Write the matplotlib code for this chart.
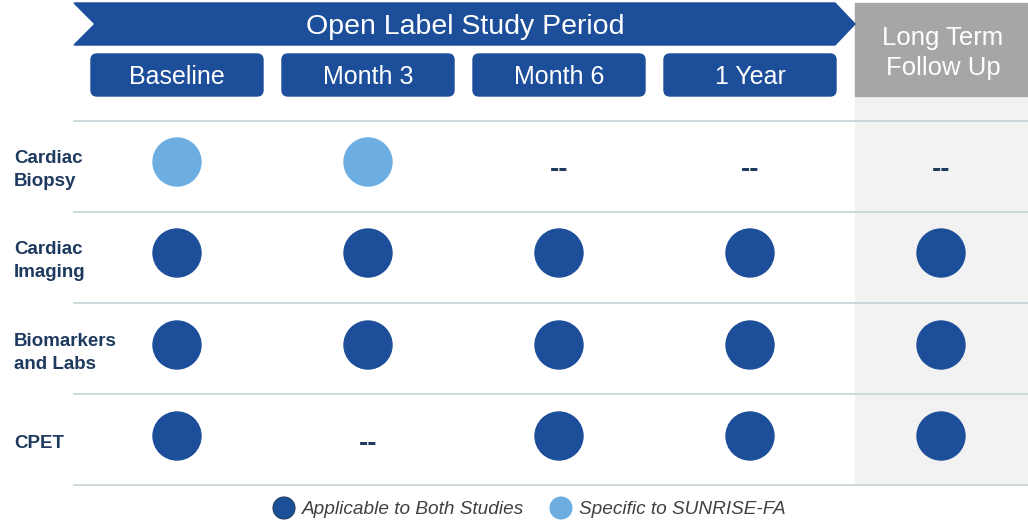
import matplotlib
matplotlib.use("Agg")
import matplotlib.pyplot as plt
from matplotlib.patches import Polygon, Rectangle, FancyBboxPatch, Circle

plt.rcParams["font.family"] = ["Liberation Sans", "DejaVu Sans"]

# ---- data ----
periods = ["Baseline", "Month 3", "Month 6", "1 Year", "Long Term\nFollow Up"]
assessments = ["Cardiac\nBiopsy", "Cardiac\nImaging", "Biomarkers\nand Labs", "CPET"]
# 2 = both studies, 1 = SUNRISE-FA only, 0 = not done
schedule = [
    [1, 1, 0, 0, 0],
    [2, 2, 2, 2, 2],
    [2, 2, 2, 2, 2],
    [2, 0, 2, 2, 2],
]
legend_labels = ["Applicable to Both Studies", "Specific to SUNRISE-FA"]

DARK = "#1d4e9a"
LIGHT = "#6daee2"
NAVY = "#1f3a5f"
GRAY = "#a6a6a6"
PALE = "#f2f2f2"
LINE = "#c5d3d8"

W, H = 1028, 524
fig = plt.figure(figsize=(W / 100, H / 100), dpi=100)
ax = fig.add_axes([0, 0, 1, 1])
ax.set_xlim(0, W); ax.set_ylim(H, 0); ax.axis("off")

col_x = [177, 368, 559, 750, 941]
row_y = [162, 253, 345, 436]
row_lines = [121, 212, 303, 394, 485]

# long-term follow-up shaded column
ax.add_patch(Rectangle((855, 96), W - 855, 389, color=PALE, zorder=0))
ax.add_patch(Rectangle((855, 3), W - 855, 93, color=GRAY, zorder=1))
ax.text(943, 53, periods[4], ha="center", va="center", color="white", fontsize=18.5,
        linespacing=1.3, zorder=3)

# banner arrow
ax.add_patch(Polygon([(74, 3), (835, 3), (855, 24), (835, 45), (74, 45), (95, 24)],
                     closed=True, color=DARK, zorder=2))
ax.text(465, 27, "Open Label Study Period", ha="center", va="center", color="white",
        fontsize=20.5, zorder=3)

# period pills
for x, lab in zip(col_x[:4], periods[:4]):
    ax.add_patch(FancyBboxPatch((x - 86 + 4, 54 + 4), 172 - 8, 42 - 8,
                                boxstyle="round,pad=4,rounding_size=6",
                                color=DARK, zorder=2))
    ax.text(x, 77.5, lab, ha="center", va="center", color="white", fontsize=18, zorder=3)

# grid lines
for y in row_lines:
    ax.plot([74, W], [y, y], color=LINE, lw=1.2, zorder=1)

# rows
for y, lab, vals in zip(row_y, assessments, schedule):
    ax.text(14, y + 8, lab, ha="left", va="center", color=NAVY, fontsize=13.5,
            fontweight="bold", linespacing=1.45)
    for x, v in zip(col_x, vals):
        if v == 0:
            ax.text(x, y + 8, "--", ha="center", va="center", color=NAVY, fontsize=20,
                    fontweight="bold")
        else:
            ax.add_patch(Circle((x, y), 24, color=DARK if v == 2 else LIGHT, zorder=3))

# legend
for cx, lab, c in zip([284, 561], legend_labels, [DARK, LIGHT]):
    ax.add_patch(Circle((cx, 508), 11, facecolor=c, edgecolor=NAVY if c == DARK else c,
                        lw=0.8, zorder=3))
    ax.text(cx + 18, 510, lab, ha="left", va="center", color="#404040", fontsize=13.7,
            style="italic")

fig.savefig("out.png", dpi=100)
